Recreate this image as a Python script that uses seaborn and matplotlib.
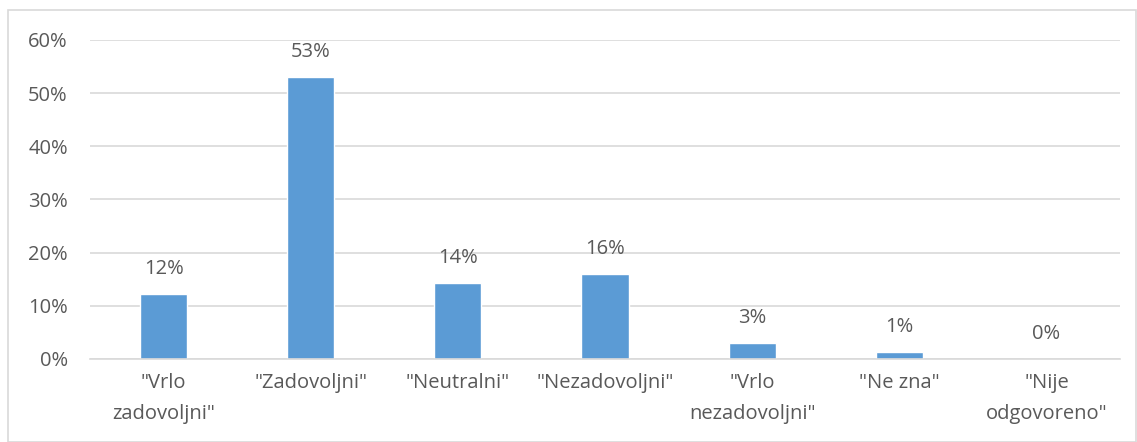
import matplotlib
matplotlib.use("Agg")
import matplotlib.pyplot as plt
import seaborn as sns
import pandas as pd
from matplotlib.patches import Rectangle

categories = ['"Vrlo\nzadovoljni"', '"Zadovoljni"', '"Neutralni"', '"Nezadovoljni"',
              '"Vrlo\nnezadovoljni"', '"Ne zna"', '"Nije\nodgovoreno"']
values = [0.122, 0.530, 0.143, 0.160, 0.030, 0.013, 0.0]
labels = ["12%", "53%", "14%", "16%", "3%", "1%", "0%"]
yticks = [0, 0.1, 0.2, 0.3, 0.4, 0.5, 0.6]
ytick_labels = ["0%", "10%", "20%", "30%", "40%", "50%", "60%"]

sns.set_theme(style="white")
plt.rcParams['font.family'] = ['Open Sans', 'DejaVu Sans']
txt = "#595959"
fs = 14.5

df = pd.DataFrame({"cat": categories, "val": values})
fig = plt.figure(figsize=(11.37, 4.42), dpi=100)
ax = fig.add_axes([90/1137, 1-359/442, 1030/1137, 319/442])
sns.barplot(data=df, x="cat", y="val", color="#5B9BD5", width=0.32, ax=ax, saturation=1)

ax.set_ylim(0, 0.6)
ax.set_xlim(-0.5, 6.5)
ax.set_yticks(yticks)
ax.set_yticklabels(ytick_labels, fontsize=fs, color=txt)
ax.tick_params(axis="x", labelsize=fs, colors=txt, length=0, pad=10)
ax.tick_params(axis="y", length=0, pad=16)
for lab in ax.get_yticklabels():
    lab.set_color(txt)
for lab in ax.get_xticklabels():
    lab.set_color(txt)
    lab.set_linespacing(1.75)
ax.set_xlabel("")
ax.set_ylabel("")
ax.yaxis.grid(True, color="#D9D9D9", linewidth=1.2)
ax.set_axisbelow(True)
for s in ["top", "right", "left"]:
    ax.spines[s].set_visible(False)
ax.spines["bottom"].set_color("#D9D9D9")
ax.spines["bottom"].set_linewidth(1.2)

for i, (v, l) in enumerate(zip(values, labels)):
    ax.annotate(l, (i, v), xytext=(0, 11), textcoords="offset points",
                ha="center", va="bottom", fontsize=fs, color=txt)

fig.patches.append(Rectangle((8/1137, 0), 1-8/1137 - 0.001, 1-10/442, transform=fig.transFigure,
                             fill=False, edgecolor="#D9D9D9", linewidth=1.2))
fig.savefig("out.png", dpi=100)
